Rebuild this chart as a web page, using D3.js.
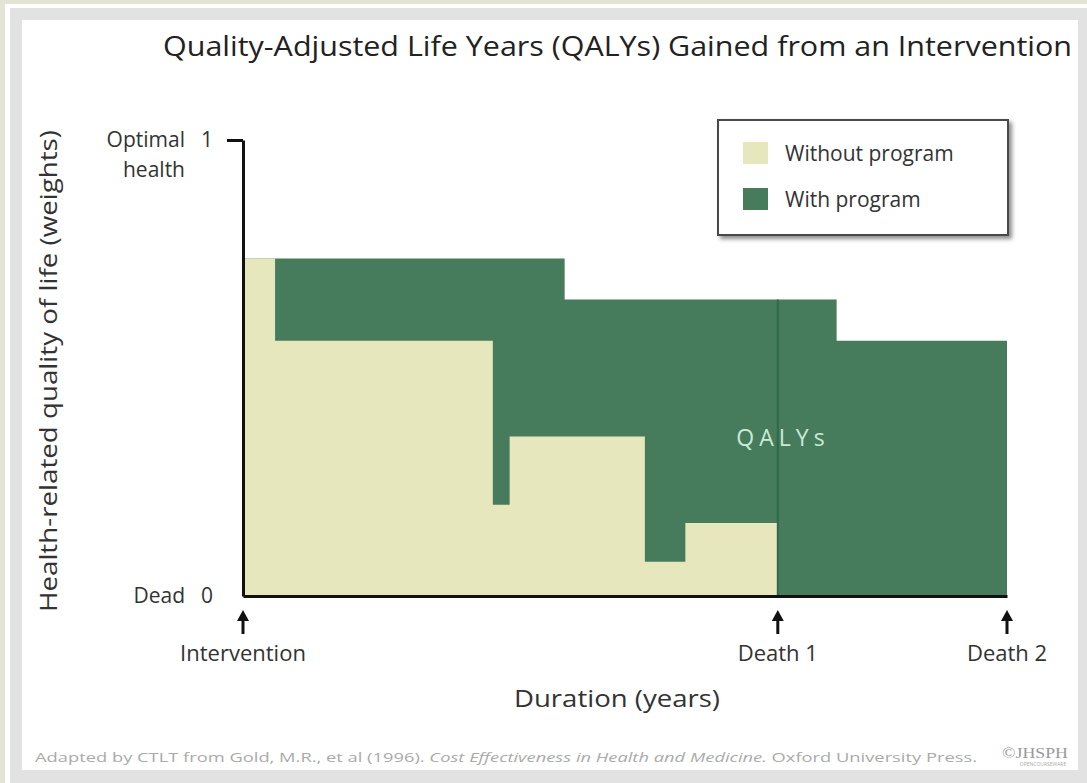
<!DOCTYPE html>
<html>
<head>
<meta charset="utf-8">
<script src="https://cdn.jsdelivr.net/npm/d3@7"></script>
<style>
  html, body { margin: 0; padding: 0; background: #e3e4d5; }
  svg { display: block; }
  text { font-family: "Liberation Sans Narrow", "Open Sans", "Noto Sans", sans-serif; fill: #333; }
</style>
</head>
<body>
<div id="chart"></div>
<script>
// step data: value holds from this year until the next one
const withoutYears = [0, 0.42, 3.27, 3.49, 5.26, 5.79, 7.0]
const withoutQol = [0.74, 0.56, 0.2, 0.35, 0.075, 0.16, 0.16]
const withYears = [0, 4.21, 7.77, 10]
const withQol = [0.74, 0.65, 0.56, 0.56]

const milestoneYears = [0, 7, 10]
const milestoneLabels = ['Intervention', 'Death 1', 'Death 2']

const yTickValues = [0, 1]
const yTickWords = ['Dead', 'Optimal']

const legendLabels = ['Without program', 'With program']

const width = 1087
const height = 783
const beige = '#e6e7bd'
const green = '#467b5b'

let svg = d3.select('#chart').append('svg')
    .attr('width', width)
    .attr('height', height)

let defs = svg.append('defs')
let shadow = defs.append('filter').attr('id', 'shadow')
    .attr('x', '-10%').attr('y', '-10%').attr('width', '130%').attr('height', '140%')
shadow.append('feDropShadow')
    .attr('dx', 3).attr('dy', 3).attr('stdDeviation', 2)
    .attr('flood-color', '#000').attr('flood-opacity', 0.45)

// frame
svg.append('rect').attr('x', 5).attr('y', 4).attr('width', width - 5).attr('height', height - 4).attr('fill', '#fff')
svg.append('rect').attr('x', 10).attr('y', 8).attr('width', width - 10).attr('height', height - 8).attr('fill', '#e2e2e2')
svg.append('rect').attr('x', 22).attr('y', 20).attr('width', 1056).attr('height', 750).attr('fill', '#fff')

let x = d3.scaleLinear().domain([0, 10]).range([243, 1007])
let y = d3.scaleLinear().domain([0, 1]).range([596, 140])

let area = d3.area()
    .curve(d3.curveStepAfter)
    .x(function (d) { return x(d[0]) })
    .y0(y(0))
    .y1(function (d) { return y(d[1]) })

let withPts = d3.zip(withYears, withQol)
let withoutPts = d3.zip(withoutYears, withoutQol)

svg.append('path').datum(withPts).attr('d', area).attr('fill', green)
svg.append('path').datum(withoutPts).attr('d', area).attr('fill', beige)

// death 1 marker line inside the green area
svg.append('line')
    .attr('x1', x(milestoneYears[1])).attr('x2', x(milestoneYears[1]))
    .attr('y1', y(withQol[1])).attr('y2', y(0))
    .attr('stroke', '#2f6a47').attr('stroke-width', 2)

svg.append('text')
    .attr('x', 783).attr('y', 446)
    .attr('text-anchor', 'middle')
    .style('font-family', '"Open Sans", sans-serif')
    .style('font-size', '23px')
    .style('letter-spacing', '5px')
    .style('fill', '#cbe9d6')
    .text('QALYs')

// axes
let yAxis = d3.axisLeft(y).tickValues(yTickValues).tickSize(16).tickSizeOuter(0).tickPadding(14)
    .tickFormat(d3.format('d'))
let gy = svg.append('g').attr('transform', 'translate(' + x(0) + ',0)').call(yAxis)
gy.select('.domain').attr('stroke', '#111').attr('stroke-width', 3)
gy.selectAll('.tick line').attr('stroke', '#111').attr('stroke-width', 3)
    .attr('display', function (d) { return d === 0 ? 'none' : null })
gy.selectAll('.tick text').style('font-size', '21px').style('fill', '#333')
    .style('font-family', '"Liberation Sans Narrow", "Open Sans", sans-serif')
gy.selectAll('.tick').each(function (d, i) {
    let g = d3.select(this)
    g.append('text').attr('x', -58).attr('dy', '0.32em').attr('text-anchor', 'end')
        .attr('fill', '#333').style('font-size', '21px').text(yTickWords[i])
    if (d === 1) {
        g.append('text').attr('x', -58).attr('dy', '1.75em').attr('text-anchor', 'end')
            .attr('fill', '#333').style('font-size', '21px').text('health')
    }
})

let xAxis = d3.axisBottom(x).tickValues([]).tickSizeOuter(0)
let gx = svg.append('g').attr('transform', 'translate(0,' + y(0) + ')').call(xAxis)
gx.select('.domain').attr('stroke', '#111').attr('stroke-width', 3)

// milestone arrows and labels
let ms = svg.selectAll('.milestone').data(milestoneYears).enter().append('g')
    .attr('class', 'milestone')
    .attr('transform', function (d) { return 'translate(' + x(d) + ',0)' })
ms.append('line').attr('x1', 0).attr('x2', 0).attr('y1', 618).attr('y2', 634)
    .attr('stroke', '#111').attr('stroke-width', 3)
ms.append('path').attr('d', 'M0,610 L-6,621 L6,621 Z').attr('fill', '#111')
ms.append('text').attr('y', 661).attr('text-anchor', 'middle')
    .style('font-size', '22px')
    .text(function (d, i) { return milestoneLabels[i] })

svg.append('text').attr('x', 617).attr('y', 707).attr('text-anchor', 'middle')
    .style('font-size', '24px').attr('textLength', 206).attr('lengthAdjust', 'spacingAndGlyphs')
    .text('Duration (years)')

svg.append('text')
    .attr('transform', 'translate(57,371) rotate(-90)')
    .attr('text-anchor', 'middle')
    .style('font-size', '23px').attr('textLength', 482).attr('lengthAdjust', 'spacingAndGlyphs')
    .text('Health-related quality of life (weights)')

svg.append('text').attr('x', 163).attr('y', 56)
    .style('font-size', '28px').style('fill', '#222')
    .attr('textLength', 909).attr('lengthAdjust', 'spacingAndGlyphs')
    .text('Quality-Adjusted Life Years (QALYs) Gained from an Intervention')

// legend
let legend = svg.append('g').attr('transform', 'translate(718,120)')
legend.append('rect').attr('width', 290).attr('height', 115)
    .attr('fill', '#fff').attr('stroke', '#4a4a4a').attr('stroke-width', 2)
    .attr('filter', 'url(#shadow)')
let li = legend.selectAll('.item').data(legendLabels).enter().append('g')
    .attr('transform', function (d, i) { return 'translate(25,' + (22 + i * 46) + ')' })
li.append('rect').attr('width', 25).attr('height', 22)
    .attr('fill', function (d, i) { return i === 0 ? beige : green })
li.append('text').attr('x', 42).attr('y', 19).style('font-size', '21px').text(function (d) { return d })

// source line
let src = svg.append('text').attr('x', 35).attr('y', 762)
    .style('font-size', '13px').style('fill', '#aaa')
    .attr('textLength', 942).attr('lengthAdjust', 'spacingAndGlyphs')
src.append('tspan').style('fill', '#aaa').text('Adapted by CTLT from Gold, M.R., et al (1996). ')
src.append('tspan').style('fill', '#aaa').style('font-style', 'italic').text('Cost Effectiveness in Health and Medicine.')
src.append('tspan').style('fill', '#aaa').text(' Oxford University Press.')

svg.append('text').attr('x', 1002).attr('y', 758)
    .style('font-family', '"Liberation Serif", serif').style('font-size', '14px').style('fill', '#999')
    .attr('textLength', 66).attr('lengthAdjust', 'spacingAndGlyphs')
    .text('©JHSPH')
svg.append('text').attr('x', 1043).attr('y', 766).attr('text-anchor', 'middle')
    .style('font-size', '5px').style('fill', '#aaa').text('OPENCOURSEWARE')
</script>
</body>
</html>
